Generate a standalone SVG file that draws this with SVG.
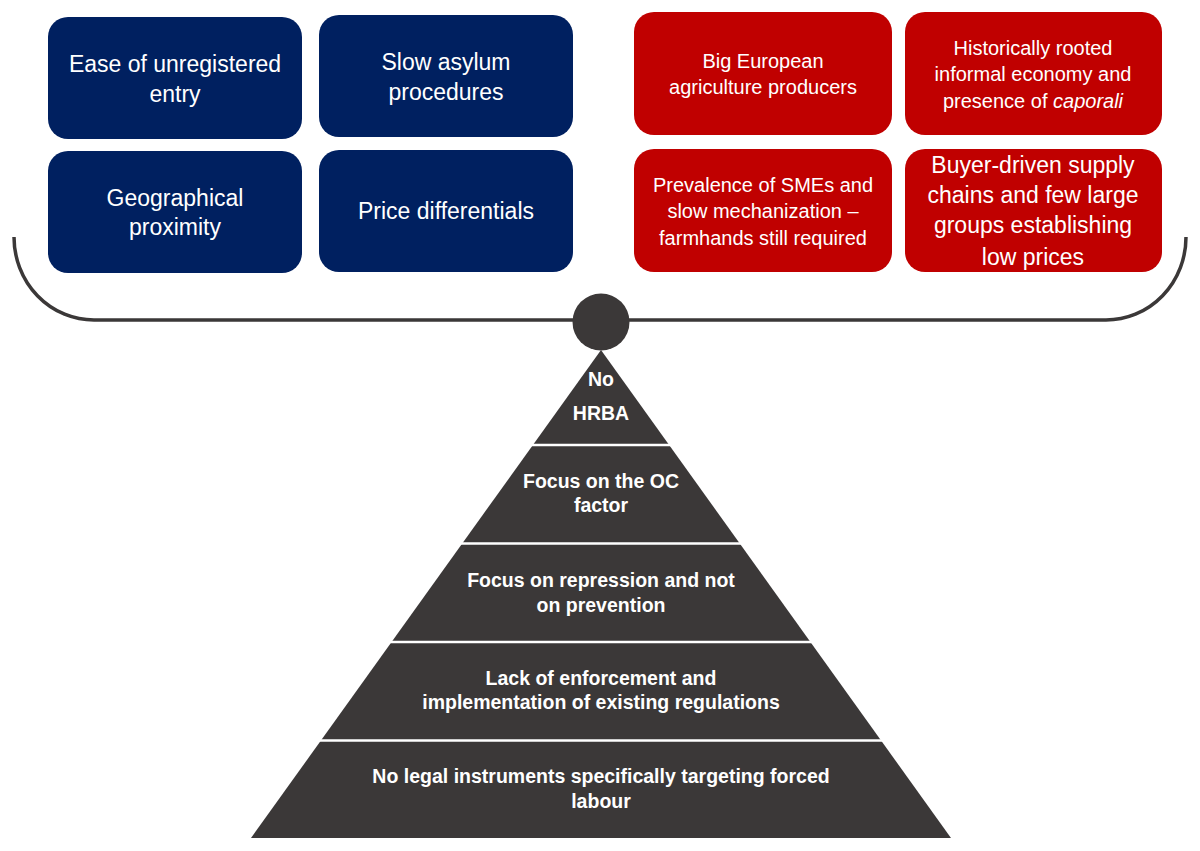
<svg xmlns="http://www.w3.org/2000/svg" width="1200" height="851" viewBox="0 0 1200 851">
<style>
.blue{fill:#002060}
.red{fill:#C00000}
.t{font-family:"Liberation Sans",Arial,sans-serif;fill:#fff;text-anchor:middle}
.tb{font-size:23px}
.tr{font-size:20px}
.tr2{font-size:23px}
.tp{font-size:19.5px;font-weight:bold}
.beam{fill:none;stroke:#3B3838;stroke-width:3.5}
.sep{stroke:#fff;stroke-width:2.5}
</style>
<rect width="1200" height="851" fill="#fff"/>
<g id="connectors">
<path class="beam" d="M 14 237 A 80 83 0 0 0 94 320 L 1106 320 A 80 83 0 0 0 1186 237"/>
</g>
<g id="fulcrum">
<circle cx="601" cy="322" r="28.5" fill="#3B3838"/>
</g>
<g id="box-ease">
<rect class="blue" x="48" y="17" width="254" height="122" rx="20"/>
<text class="t tb" x="175" y="72">Ease of unregistered</text>
<text class="t tb" x="175" y="102">entry</text>
</g>
<g id="box-asylum">
<rect class="blue" x="319" y="15" width="254" height="122" rx="20"/>
<text class="t tb" x="446" y="70">Slow asylum</text>
<text class="t tb" x="446" y="100">procedures</text>
</g>
<g id="box-geo">
<rect class="blue" x="48" y="151" width="254" height="122" rx="20"/>
<text class="t tb" x="175" y="206">Geographical</text>
<text class="t tb" x="175" y="235">proximity</text>
</g>
<g id="box-price">
<rect class="blue" x="319" y="150" width="254" height="122" rx="20"/>
<text class="t tb" x="446" y="219">Price differentials</text>
</g>
<g id="box-big">
<rect class="red" x="634" y="12" width="258" height="123" rx="20"/>
<text class="t tr" x="763" y="68">Big European</text>
<text class="t tr" x="763" y="94">agriculture producers</text>
</g>
<g id="box-hist">
<rect class="red" x="905" y="12" width="257" height="123" rx="20"/>
<text class="t tr" x="1033" y="55">Historically rooted</text>
<text class="t tr" x="1033" y="81">informal economy and</text>
<text class="t tr" x="1033" y="108">presence of <tspan font-style="italic">caporali</tspan></text>
</g>
<g id="box-sme">
<rect class="red" x="634" y="149" width="258" height="123" rx="20"/>
<text class="t tr" x="763" y="192">Prevalence of SMEs and</text>
<text class="t tr" x="763" y="218">slow mechanization –</text>
<text class="t tr" x="763" y="245">farmhands still required</text>
</g>
<g id="box-buyer">
<rect class="red" x="905" y="149" width="257" height="123" rx="20"/>
<text class="t tr2" x="1033" y="173">Buyer-driven supply</text>
<text class="t tr2" x="1033" y="203">chains and few large</text>
<text class="t tr2" x="1033" y="233">groups establishing</text>
<text class="t tr2" x="1033" y="265">low prices</text>
</g>
<g id="pyramid">
<polygon points="601,350 951,838 251,838" fill="#3B3838"/>
<line class="sep" x1="520" y1="445" x2="682" y2="445"/>
<line class="sep" x1="440" y1="543.5" x2="762" y2="543.5"/>
<line class="sep" x1="370" y1="642" x2="832" y2="642"/>
<line class="sep" x1="300" y1="740.5" x2="902" y2="740.5"/>
</g>
<g id="level-hrba">
<text class="t tp" x="601" y="386">No</text>
<text class="t tp" x="601" y="420">HRBA</text>
</g>
<g id="level-oc">
<text class="t tp" x="601" y="488">Focus on the OC</text>
<text class="t tp" x="601" y="512">factor</text>
</g>
<g id="level-repression">
<text class="t tp" x="601" y="587">Focus on repression and not</text>
<text class="t tp" x="601" y="612">on prevention</text>
</g>
<g id="level-enforcement">
<text class="t tp" x="601" y="685">Lack of enforcement and</text>
<text class="t tp" x="601" y="709">implementation of existing regulations</text>
</g>
<g id="level-legal">
<text class="t tp" x="601" y="783">No legal instruments specifically targeting forced</text>
<text class="t tp" x="601" y="808">labour</text>
</g>
</svg>
